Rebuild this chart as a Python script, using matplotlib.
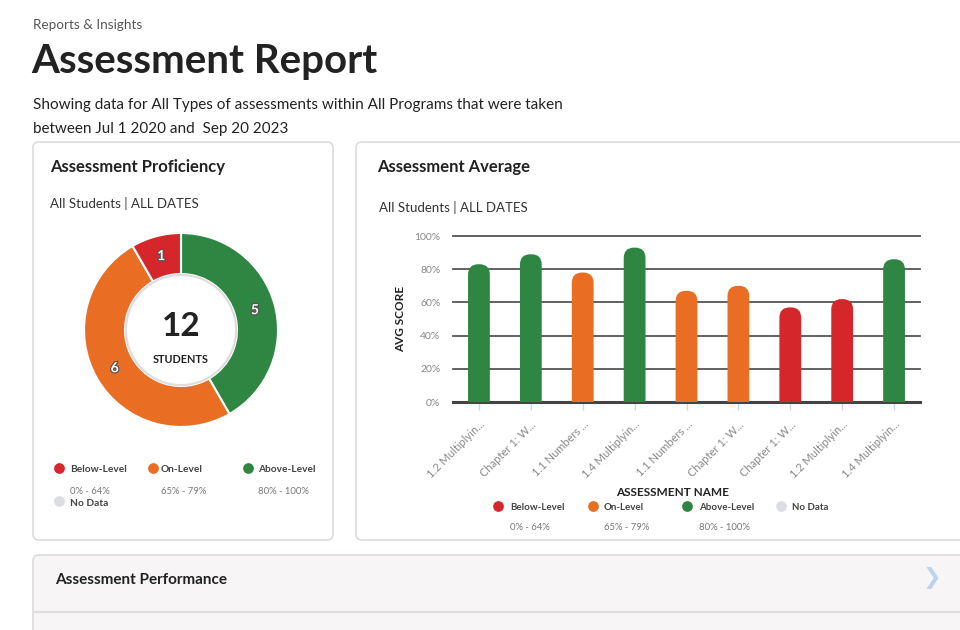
import matplotlib.pyplot as plt
import matplotlib.patheffects as pe
from matplotlib.patches import FancyBboxPatch, Circle
import numpy as np

plt.rcParams['font.family'] = ['Lato', 'DejaVu Sans']

# ---- data ----
levels = ["Below-Level", "On-Level", "Above-Level", "No Data"]
level_ranges = ["0% - 64%", "65% - 79%", "80% - 100%", ""]
level_colors = ["#d5262b", "#ea6d24", "#2e8642", "#dcdde3"]

# donut: clockwise from 12 o'clock (above, on, below)
donut_counts = [5, 6, 1]
donut_colors = ["#2e8642", "#ea6d24", "#d5262b"]
total_students = 12

assessments = ["1.2 Multiplyin...", "Chapter 1: W...", "1.1 Numbers ...",
               "1.4 Multiplyin...", "1.1 Numbers ...", "Chapter 1: W...",
               "Chapter 1: W...", "1.2 Multiplyin...", "1.4 Multiplyin..."]
avg_scores = [83, 89, 78, 93, 67, 70, 57, 62, 86]
y_ticks = [0, 20, 40, 60, 80, 100]

W, H = 960, 630


def color_for(score):
    if score < 65:
        return level_colors[0]
    if score < 80:
        return level_colors[1]
    return level_colors[2]


def px_axes(x0, y0, x1, y1):
    # pixel box (top-left origin) -> figure axes
    return fig.add_axes([x0 / W, 1 - y1 / H, (x1 - x0) / W, (y1 - y0) / H])


fig = plt.figure(figsize=(9.6, 6.3), dpi=100)
fig.patch.set_facecolor("white")

bg = fig.add_axes([0, 0, 1, 1])
bg.set_xlim(0, W)
bg.set_ylim(H, 0)
bg.axis("off")

# cards
for (x, y, w, h, fc) in [(33, 142, 300, 398, "white"),
                         (356, 142, 620, 398, "white"),
                         (33, 555, 940, 90, "#f7f5f5")]:
    bg.add_patch(FancyBboxPatch((x, y), w, h, boxstyle="round,pad=0,rounding_size=6",
                                fc=fc, ec="#dcdcdc", lw=1.2))
bg.plot([33, 960], [612, 612], color="#dedede", lw=1.5)

# header text
bg.text(33, 25, "Reports & Insights", fontsize=9.7, color="#555555", va="center")
bg.text(31, 62, "Assessment Report", fontsize=29, fontweight="bold", color="#222222", va="center")
bg.text(33, 105, "Showing data for All Types of assessments within All Programs that were taken",
        fontsize=11, color="#222222", va="center")
bg.text(33, 129, "between Jul 1 2020 and  Sep 20 2023", fontsize=11, color="#222222", va="center")

bg.text(50, 167, "Assessment Proficiency", fontsize=12, fontweight="bold", color="#222222", va="center")
bg.text(50, 203, "All Students | ALL DATES", fontsize=9.5, color="#333333", va="center")
bg.text(377, 167, "Assessment Average", fontsize=12, fontweight="bold", color="#222222", va="center")
bg.text(379, 207, "All Students | ALL DATES", fontsize=9.5, color="#333333", va="center")

bg.text(55, 580, "Assessment Performance", fontsize=11, fontweight="bold", color="#222222", va="center")
bg.text(932, 578, "\u276f", fontsize=16, color="#b9d4ee", va="center", ha="center")


# legends
def legend(xs, y_mark, y_range, nodata_pos, fs):
    for i in range(3):
        bg.scatter(xs[i][0], y_mark, s=45, color=level_colors[i], zorder=3)
        bg.text(xs[i][1], y_mark + 2, levels[i], fontsize=fs, fontweight="bold",
                color="#444444", va="center")
        bg.text(xs[i][1], y_range, level_ranges[i], fontsize=6.8, color="#777777", va="center")
    mx, lx, yy = nodata_pos
    bg.scatter(mx, yy, s=45, color=level_colors[3], zorder=3)
    bg.text(lx, yy + 2, levels[3], fontsize=fs, fontweight="bold", color="#444444", va="center")


legend([(59, 70), (153, 161), (248, 258)], 468, 491, (59, 70, 501), 7.3)
legend([(498, 510), (593, 604), (687, 699)], 506, 527, (781, 792, 506), 7)

# ---- donut ----
cx, cy, R = 181, 330, 97
pad = 1.06
dax = px_axes(cx - R * pad, cy - R * pad, cx + R * pad, cy + R * pad)
rin = 56 / R
wedges, _ = dax.pie(donut_counts, colors=donut_colors, startangle=90, counterclock=False,
                    radius=1, wedgeprops=dict(width=1 - rin, edgecolor="white", linewidth=1.5))
dax.set_xlim(-pad, pad)
dax.set_ylim(-pad, pad)
dax.set_aspect("equal")
dax.axis("off")
dax.add_patch(Circle((0, 0), 1.0, fill=False, ec="#e4e4e4", lw=1.2, zorder=0))
dax.add_patch(Circle((0, 0), rin - 0.01, fill=False, ec="#dddddd", lw=1.5))
start = 90.0
rmid = (1 + rin) / 2
for cnt in donut_counts:
    span = 360.0 * cnt / sum(donut_counts)
    ang = np.deg2rad(start - span / 2)
    dax.text(rmid * np.cos(ang), rmid * np.sin(ang), str(cnt), fontsize=10, fontweight="bold",
             color="white", ha="center", va="center",
             path_effects=[pe.withStroke(linewidth=1.8, foreground="#555555")])
    start -= span
dax.text(0, 0.04, str(total_students), fontsize=24, fontweight="bold", color="#222222",
         ha="center", va="center")
dax.text(0, -0.3, "STUDENTS", fontsize=7.8, fontweight="bold", color="#222222",
         ha="center", va="center")

# ---- bar chart ----
ax = px_axes(453, 236, 920, 402)
ax.patch.set_alpha(0)
xpos = np.arange(len(assessments))
bars = ax.bar(xpos, avg_scores, width=0.42, color=[color_for(s) for s in avg_scores], zorder=3)
ax.set_xlim(-0.5, len(assessments) - 0.5)
ax.set_ylim(0, 100)
aspect = (100 / 166) / (len(assessments) / 467)
for b in bars:
    b.set_visible(False)
    ax.add_patch(FancyBboxPatch((b.get_x(), -20), b.get_width(), b.get_height() + 20,
                                boxstyle="round,pad=0,rounding_size=0.2", mutation_aspect=aspect,
                                fc=b.get_facecolor(), ec="none", zorder=3))
for v in y_ticks:
    ax.axhline(v, color="#444444" if v == 0 else "#555555", lw=2.2 if v == 0 else 1.3,
               zorder=2, clip_on=False)
for s in ax.spines.values():
    s.set_visible(False)
ax.set_yticks(y_ticks)
ax.set_yticklabels([f"{v}%" for v in y_ticks], fontsize=7.5, color="#888888")
ax.tick_params(axis="y", length=0, pad=9)
ax.set_xticks(xpos)
ax.set_xticklabels(assessments, rotation=45, ha="right", rotation_mode="anchor",
                   fontsize=8, color="#888888")
ax.tick_params(axis="x", length=6, color="#c9d8ee", width=1, pad=6)
ax.set_ylabel("AVG SCORE", fontsize=8.5, fontweight="bold", color="#222222", labelpad=6)
bg.text(673, 492, "ASSESSMENT NAME", fontsize=8.5, fontweight="bold", color="#222222",
        ha="center", va="center")

fig.savefig("out.png", dpi=100)
